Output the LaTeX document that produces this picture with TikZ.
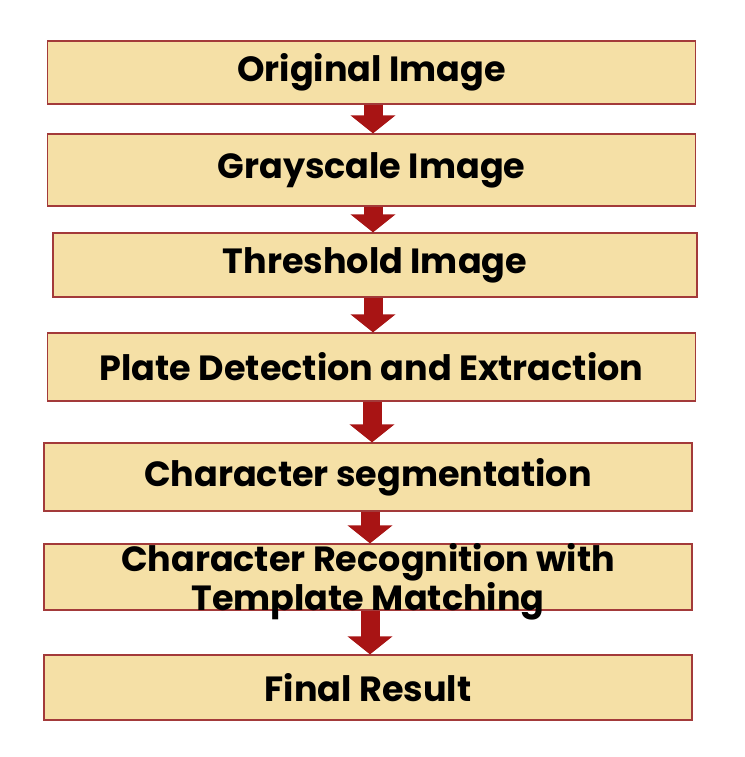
\documentclass[tikz,border=0pt]{standalone}
\usepackage{fontspec}
\setmainfont{Poppins}
\usetikzlibrary{arrows.meta}
\definecolor{boxfill}{HTML}{F5E0A6}
\definecolor{boxline}{HTML}{A33A3A}
\definecolor{arrowred}{HTML}{A81414}
\tikzset{
  boxtext/.style={inner sep=0pt, align=center, font=\fontsize{35}{33}\selectfont\bfseries},
  stepbox/.style={boxtext, draw=boxline, line width=1.2pt, fill=boxfill, minimum width=648pt},
  flow/.style={draw=arrowred, line width=19pt, -{Triangle[length=18pt,width=44pt]}, arrowred}
}
\begin{document}
\begin{tikzpicture}[x=1pt,y=-1pt]
\fill[white] (0,0) rectangle (744,757);
\useasboundingbox (0,0) rectangle (744,757);
\node[stepbox, minimum height=63pt] (b1) at (371.5,72.5) {Original Image};
\node[stepbox, minimum height=72pt] (b2) at (371.5,170) {Grayscale Image};
\node[stepbox, minimum height=64pt, minimum width=644pt] (b3) at (375,265) {Threshold Image};
\node[stepbox, minimum height=68pt] (b4) at (371.5,367) {Plate Detection and Extraction};
\node[stepbox, minimum height=68pt] (b5) at (368,477) {Character segmentation};
\node[stepbox, minimum height=66pt] (b6) at (368,577) {};
\node[stepbox, minimum height=65pt] (b7) at (368,687.5) {Final Result};
\draw[flow] (b1.south -| 373,0) -- (b2.north -| 373,0);
\draw[flow] (b2.south -| 373,0) -- (b3.north -| 373,0);
\draw[flow] (b3.south -| 373,0) -- (b4.north -| 373,0);
\draw[flow] (b4.south -| 372,0) -- (b5.north -| 372,0);
\draw[flow] (b5.south -| 370,0) -- (b6.north -| 370,0);
\draw[flow] (b6.south -| 370,0) -- (b7.north -| 370,0);
\node[boxtext] (t6) at (368,582) {Character Recognition with\\Template Matching};
\end{tikzpicture}
\end{document}
